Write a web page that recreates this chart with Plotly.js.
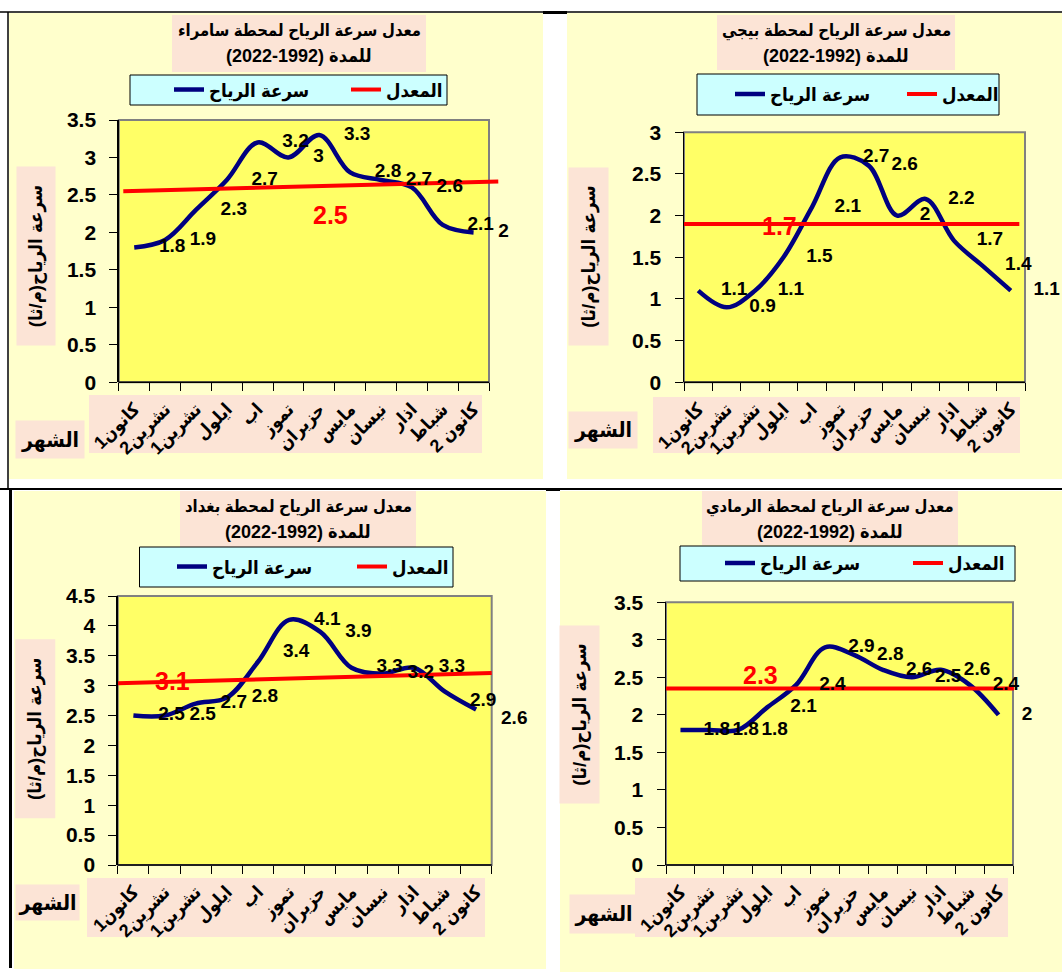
<!DOCTYPE html>
<html><head><meta charset="utf-8">
<script src="https://cdn.plot.ly/plotly-3.0.1.min.js"></script>
<style>html,body{margin:0;padding:0;background:#fff;overflow:hidden}#chart{width:1062px;height:972px}</style>
</head><body><div id="chart"></div>
<script>
// ---------- data ----------
const months = ['كانون1','تشرين2','تشرين1','ايلول','اب','تموز','حزيران','مايس','نيسان','اذار','شباط','كانون 2'];
const stations = ['سامراء','بيجي','بغداد','الرمادي'];
const samarra = [1.8, 1.9, 2.3, 2.7, 3.2, 3.0, 3.3, 2.8, 2.7, 2.6, 2.1, 2.0];
const bayji   = [1.1, 0.9, 1.1, 1.5, 2.1, 2.7, 2.6, 2.0, 2.2, 1.7, 1.4, 1.1];
const baghdad = [2.5, 2.5, 2.7, 2.8, 3.4, 4.1, 3.9, 3.3, 3.2, 3.3, 2.9, 2.6];
const ramadi  = [1.8, 1.8, 1.8, 2.1, 2.4, 2.9, 2.8, 2.6, 2.5, 2.6, 2.4, 2.0];
const meanLabels = [2.5, 1.7, 3.1, 2.3];
const samarraMeanLine = [2.55, 2.68];
const bayjiMeanLine   = [1.9, 1.9];
const baghdadMeanLine = [3.04, 3.21];
const ramadiMeanLine  = [2.35, 2.35];
const yMax = [3.5, 3, 4.5, 3.5];
const seriesName = 'سرعة الرياح';
const meanName = 'المعدل';
const yTitle = 'سرعة الرياح(م/ثا)';
const xTitle = 'الشهر';
const titleLine1 = 'معدل سرعة الرياح لمحطة ';
const titleLine2 = 'للمدة (1992-2022)';

// ---------- layout geometry (pixels) ----------
const W = 1062, H = 972;
const px = v => v / W, py = v => 1 - v / H;
const FONT = '"Liberation Sans", Arial, "DejaVu Sans Condensed", "DejaVu Sans", sans-serif';
const RLM = '\u200F';
const PANEL_BG = '#FFFFCC', PLOT_BG = '#FFFF66', PINK = '#FCE4D6', CYAN = '#CCFFFF';

const panels = [
  {plot:[118.8,489,120,382.3], title:[172,426,15,72], legend:[130,447,75,105], legText:[212,386], ytitle:[17,55,167,345], xtitle:[15.5,83.7,421,458], pink:[89,482,395,453], bg:[9,543,13,479], meanX:[0.646,12.8], meanPos:[7.37,2.23], labelPos:null},
  {plot:[684,1025,132.3,382.3], title:[717,955,15,70], legend:[697,999,74,115], legText:[773,942], ytitle:[569,608,168,345], xtitle:[569,637,412,448], pink:[653,1020,397,453], bg:[567,1062,13,479], meanX:[-0.52,12.3], meanPos:[3.85,1.88], labelPos:null},
  {plot:[117.8,491.7,596,865], title:[180,416,491,547], legend:[139.5,453,547,587], legText:[215,392], ytitle:[15.5,54,640,818], xtitle:[15.5,78.5,885,920], pink:[87,485,878,937], bg:[14,546,491,969], meanX:[0.5,12.5], meanPos:[2.25,3.08],
   labelPos:['middle right','middle right','middle right','middle right','top right','middle right','middle right','middle right','middle right','middle right','bottom right','bottom right']},
  {plot:[666,1013,602.3,865], title:[702,958,491,545], legend:[680,1015,546,581], legText:[763,948], ytitle:[560,599,626,803], xtitle:[570,637,895,933], pink:[635,1008,878,937], bg:[560,1062,491,972], meanX:[-0.15,12.53], meanPos:[3.78,2.53], labelPos:null}
];
const series = [samarra, bayji, baghdad, ramadi];
const meanLines = [samarraMeanLine, bayjiMeanLine, baghdadMeanLine, ramadiMeanLine];

const cats = months.map((m, i) => i + 1);
const boundaries = cats.map(c => c - 0.5).concat([cats.length + 0.5]);
const traces = [], shapes = [], annotations = [];
const layout = {
  width: W, height: H, margin: {l:0, r:0, t:0, b:0, autoexpand:false},
  paper_bgcolor: '#FFFFFF', plot_bgcolor: 'rgba(0,0,0,0)',
  font: {family: FONT, color: '#000'},
  showlegend: true, hovermode: false
};

panels.forEach((p, k) => {
  const s = k === 0 ? '' : String(k + 1);
  const xa = 'x' + s, ya = 'y' + s;
  const lg = 'legend' + s;
  const [L, R, T, B] = p.plot;
  const catW = (R - L) / cats.length;
  const vals = series[k];

  // panel background, title box, tick-label background, plot area, legend box
  const rect = (b, fill, line) => ({type:'rect', xref:'paper', yref:'paper', x0:px(b[0]), x1:px(b[1]), y0:py(b[3]), y1:py(b[2]), fillcolor:fill, line: line || {width:0}, layer:'below'});
  shapes.push(rect(p.bg, PANEL_BG));
  shapes.push(rect(p.title, PINK));
  shapes.push(rect(p.pink, PINK));
  shapes.push(rect([L, R, T, B], PLOT_BG, {color:'#808080', width:2}));
  shapes.push(rect(p.legend, CYAN, {color:'#000', width:1}));
  // black category axis line
  shapes.push({type:'line', xref:'paper', yref:'paper', x0:px(L), x1:px(R), y0:py(B), y1:py(B), line:{color:'#000', width:1.5}});

  traces.push({
    x: cats, y: vals, type:'scatter', mode:'lines', name: seriesName,
    line:{shape:'spline', smoothing:1, color:'#000080', width:4.5},
    xaxis: xa, yaxis: ya, legend: lg, cliponaxis:false
  });
  traces.push({
    x: p.meanX, y: meanLines[k], type:'scatter', mode:'lines', name: meanName,
    line:{color:'#FF0000', width:4},
    xaxis: xa, yaxis: ya, legend: lg, cliponaxis:false
  });
  traces.push({
    x: cats.map(c => c + 0.8), y: vals, type:'scatter', mode:'text',
    text: vals.map(v => String(v)),
    textposition: p.labelPos || 'middle right',
    textfont:{family:FONT, size:19, weight:'bold', color:'#000'},
    xaxis: xa, yaxis: ya, showlegend:false, cliponaxis:false, hoverinfo:'skip'
  });

  // x axis reaches one category further right so the shifted labels stay in range
  layout['xaxis' + s] = {
    domain:[px(L), px(R + catW)], anchor: ya, range:[0.5, cats.length + 1.5],
    tickmode:'array', tickvals: cats, ticktext: months, ticks:'',
    tickangle:-45, tickfont:{family:FONT, size:18, weight:'bold', color:'#000'},
    ticklabelstandoff: 12,
    minor:{tickmode:'array', tickvals: boundaries, ticks:'outside', ticklen:8, tickcolor:'#000', tickwidth:1},
    showline:false, showgrid:false, zeroline:false, fixedrange:true
  };
  layout['yaxis' + s] = {
    domain:[py(B), py(T)], anchor: xa, range:[0, yMax[k]], dtick:0.5, tick0:0,
    ticks:'outside', ticklen:8, tickcolor:'#000', tickwidth:1,
    tickfont:{family:FONT, size:21, weight:'bold', color:'#000'}, ticklabelstandoff: 9,
    showline:true, linecolor:'#000', linewidth:1.5, showgrid:false, zeroline:false, fixedrange:true
  };

  const stride = p.legText[1] - p.legText[0];
  layout[lg] = {
    orientation:'h', x:px(p.legText[0] - 43), y:py((p.legend[2] + p.legend[3]) / 2), xanchor:'left', yanchor:'middle',
    bgcolor:'rgba(0,0,0,0)', borderwidth:0,
    font:{family:FONT, size:18.5, weight:'bold', color:'#000'},
    entrywidth: stride - 42, entrywidthmode:'pixels', traceorder:'normal'
  };

  // title (two lines on the pink box)
  const tcx = px((p.title[0] + p.title[1]) / 2);
  annotations.push({
    xref:'paper', yref:'paper', x:tcx, y:py(p.title[2] + 16), xanchor:'center', yanchor:'middle', showarrow:false,
    text: titleLine1 + stations[k], font:{family:FONT, size:16.5, weight:'bold', color:'#000'}
  });
  annotations.push({
    xref:'paper', yref:'paper', x:tcx, y:py(p.title[2] + 41), xanchor:'center', yanchor:'middle', showarrow:false,
    text: titleLine2 + RLM, font:{family:FONT, size:18, weight:'bold', color:'#000'}
  });
  // y title
  annotations.push({
    xref:'paper', yref:'paper', x:px((p.ytitle[0] + p.ytitle[1]) / 2), y:py((p.ytitle[2] + p.ytitle[3]) / 2),
    xanchor:'center', yanchor:'middle', showarrow:false, textangle:-90,
    width: p.ytitle[3] - p.ytitle[2], height: p.ytitle[1] - p.ytitle[0], borderpad:0,
    bgcolor:PINK, text: yTitle + RLM,
    font:{family:FONT, size:18.5, weight:'bold', color:'#000'}
  });
  // x title
  annotations.push({
    xref:'paper', yref:'paper', x:px((p.xtitle[0] + p.xtitle[1]) / 2), y:py((p.xtitle[2] + p.xtitle[3]) / 2),
    xanchor:'center', yanchor:'middle', showarrow:false,
    width: p.xtitle[1] - p.xtitle[0], height: p.xtitle[3] - p.xtitle[2], borderpad:0,
    bgcolor:PINK, text: xTitle,
    font:{family:FONT, size:21, weight:'bold', color:'#000'}
  });
  // mean label
  annotations.push({
    xref: xa, yref: ya, x: p.meanPos[0], y: p.meanPos[1], showarrow:false,
    xanchor:'center', yanchor:'middle', text: String(meanLabels[k]),
    font:{family:FONT, size:25, weight:'bold', color:'#FF0000'}
  });
});

// frame lines
shapes.push({type:'line', xref:'paper', yref:'paper', x0:0, x1:1, y0:py(12), y1:py(12), line:{color:'#000', width:1.5}});
shapes.push({type:'rect', xref:'paper', yref:'paper', x0:px(543), x1:px(567), y0:py(14), y1:py(11), fillcolor:'#000', line:{width:0}});
shapes.push({type:'line', xref:'paper', yref:'paper', x0:0, x1:1, y0:py(489), y1:py(489), line:{color:'#000', width:2}});
shapes.push({type:'rect', xref:'paper', yref:'paper', x0:px(546), x1:px(560), y0:py(491), y1:py(488), fillcolor:'#000', line:{width:0}});
shapes.push({type:'line', xref:'paper', yref:'paper', x0:px(8), x1:px(8), y0:py(12), y1:py(489), line:{color:'#000', width:1.5}});
shapes.push({type:'line', xref:'paper', yref:'paper', x0:px(10.5), x1:px(10.5), y0:py(489), y1:py(968), line:{color:'#000', width:3}});

layout.shapes = shapes;
layout.annotations = annotations;

Plotly.newPlot('chart', traces, layout, {displayModeBar:false, staticPlot:true});
</script>
</body></html>
